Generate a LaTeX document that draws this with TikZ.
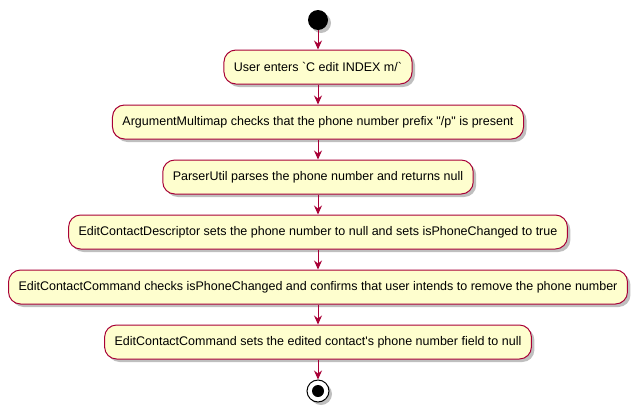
\documentclass[tikz,border=0pt]{standalone}
\usepackage{fontspec}
\newfontfamily\uifont{Liberation Sans}
\usetikzlibrary{arrows.meta,shadows}
\definecolor{actfill}{HTML}{FEFECE}
\definecolor{actline}{HTML}{A80036}
\tikzset{
  act/.style={draw=actline, fill=actfill, line width=1pt, rounded corners=12pt,
    minimum height=34pt, inner xsep=10pt, inner ysep=0pt,
    font=\uifont\fontsize{12.5}{14}\selectfont,
    drop shadow={shadow xshift=3pt, shadow yshift=-3pt, fill=black!50, opacity=0.5}},
  flow/.style={draw=actline, line width=1pt, -{Stealth[length=9pt,width=8pt,inset=3pt]}},
}
\begin{document}
\begin{tikzpicture}[x=1pt,y=-1pt]
\useasboundingbox (0,0) rectangle (642,418);
\node[circle, fill=black, minimum size=20pt, inner sep=0pt,
  drop shadow={shadow xshift=3pt, shadow yshift=-3pt, fill=black!50, opacity=0.5}] (start) at (318,20) {};
\node[act] (a1) at (318,67) {User enters `C edit INDEX m/`};
\node[act] (a2) at (318,122) {ArgumentMultimap checks that the phone number prefix "/p" is present};
\node[act] (a3) at (318,177) {ParserUtil parses the phone number and returns null};
\node[act] (a4) at (318,232) {EditContactDescriptor sets the phone number to null and sets isPhoneChanged to true};
\node[act] (a5) at (318,287) {EditContactCommand checks isPhoneChanged and confirms that user intends to remove the phone number};
\node[act] (a6) at (318,342) {EditContactCommand sets the edited contact's phone number field to null};
\node[circle, draw=black, line width=1pt, fill=white, minimum size=22pt, inner sep=0pt,
  drop shadow={shadow xshift=3pt, shadow yshift=-3pt, fill=black!50, opacity=0.5}] (stop) at (318,391) {};
\node[circle, fill=black, minimum size=12pt, inner sep=0pt] (stopdot) at (stop.center) {};
\draw[flow] (start) -- (a1);
\draw[flow] (a1) -- (a2);
\draw[flow] (a2) -- (a3);
\draw[flow] (a3) -- (a4);
\draw[flow] (a4) -- (a5);
\draw[flow] (a5) -- (a6);
\draw[flow] (a6) -- (stop);
\end{tikzpicture}
\end{document}
